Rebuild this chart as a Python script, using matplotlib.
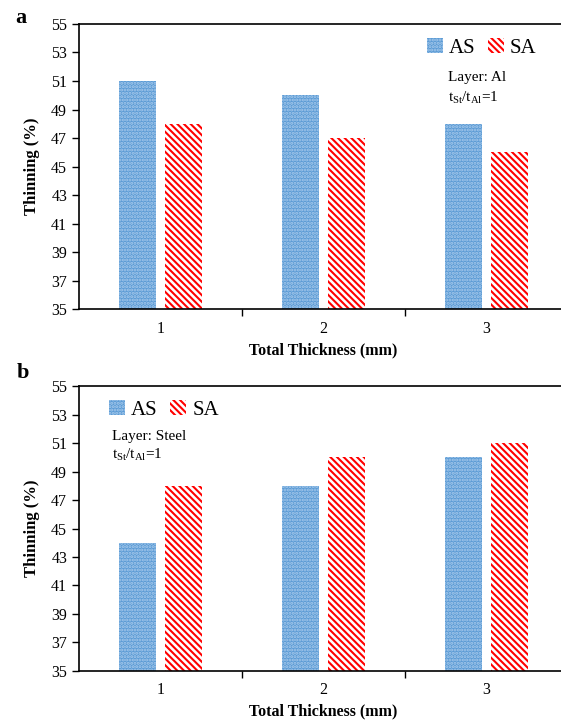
import numpy as np
import matplotlib
matplotlib.use("Agg")
import matplotlib.pyplot as plt
from matplotlib.patches import Patch

plt.rcParams['font.family'] = ['Liberation Serif', 'DejaVu Serif']
plt.rcParams['mathtext.fontset'] = 'stix'
plt.rcParams['hatch.linewidth'] = 1.5

categories = ['1', '2', '3']
as_al = [51, 50, 48]
sa_al = [48, 47, 46]
as_steel = [44, 48, 50]
sa_steel = [48, 50, 51]

blue = '#5b9bd5'
dot = '#a8caec'
red = '#ff0000'


def panel(ax, as_vals, sa_vals):
    x = np.arange(1, len(categories) + 1)
    ax.bar(x - 0.143, np.array(as_vals) - 35, 0.225, bottom=35, color=blue,
           edgecolor=dot, hatch='.....', linewidth=0)
    ax.bar(x + 0.143, np.array(sa_vals) - 35, 0.225, bottom=35, color='white',
           edgecolor=red, hatch='\\\\\\\\\\', linewidth=0)
    ax.set_xlim(0.5, 3.5)
    ax.set_ylim(35, 55)
    ax.set_yticks(range(35, 56, 2))
    ax.set_xticks(x)
    ax.set_xticklabels(categories)
    ax.set_xticks([1.5, 2.5], minor=True)
    ax.tick_params(axis='x', which='major', length=0, labelsize=11.5, pad=8)
    ax.tick_params(axis='x', which='minor', length=5, direction='out', width=1)
    ax.tick_params(axis='y', length=5, direction='out', labelsize=11.5, width=1)
    ax.spines['right'].set_visible(False)
    for s in ['left', 'bottom', 'top']:
        ax.spines[s].set_linewidth(1.2)
    ax.set_xlabel('Total Thickness (mm)', fontweight='bold', fontsize=11.5, labelpad=4)
    ax.set_ylabel('Thinning (%)', fontweight='bold', fontsize=12, labelpad=8)
    handles = [Patch(facecolor=blue, edgecolor=dot, hatch='.....', linewidth=0),
               Patch(facecolor='white', edgecolor=red, hatch='\\\\\\\\\\', linewidth=0)]
    return handles


fig = plt.figure(figsize=(5.61, 7.23), dpi=100)
ax1 = fig.add_axes([0.1408, 0.5720, 0.8717, 0.3950])
ax2 = fig.add_axes([0.1408, 0.0720, 0.8717, 0.3940])

h = panel(ax1, as_al, sa_al)
ax1.legend(h, ['AS', 'SA'], loc='upper left', bbox_to_anchor=(0.695, 0.98),
           ncol=2, frameon=False, fontsize=15, handlelength=0.75, handleheight=0.75,
           handletextpad=0.3, columnspacing=0.6, borderaxespad=0)
ax1.text(0.755, 0.80, 'Layer: Al', transform=ax1.transAxes, fontsize=11)
ax1.text(0.755, 0.725, r'$\mathregular{t_{St}/t_{Al}}$=1', transform=ax1.transAxes, fontsize=11)

h = panel(ax2, as_steel, sa_steel)
ax2.legend(h, ['AS', 'SA'], loc='upper left', bbox_to_anchor=(0.045, 0.98),
           ncol=2, frameon=False, fontsize=15, handlelength=0.75, handleheight=0.75,
           handletextpad=0.3, columnspacing=0.6, borderaxespad=0)
ax2.text(0.068, 0.81, 'Layer: Steel', transform=ax2.transAxes, fontsize=11)
ax2.text(0.068, 0.745, r'$\mathregular{t_{St}/t_{Al}}$=1', transform=ax2.transAxes, fontsize=11)

fig.text(0.027, 0.968, 'a', fontsize=16, fontweight='bold')
fig.text(0.030, 0.477, 'b', fontsize=16, fontweight='bold')

fig.savefig('out.png', dpi=100)
